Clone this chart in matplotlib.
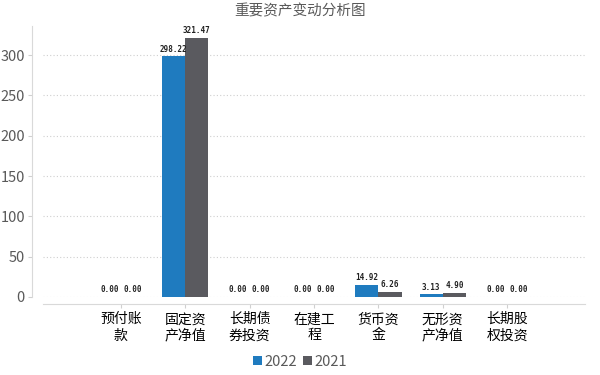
import matplotlib
matplotlib.use("Agg")
import matplotlib.pyplot as plt
import numpy as np

plt.rcParams['font.family'] = ['Noto Sans CJK SC', 'DejaVu Sans']

title = "重要资产变动分析图"
categories = ["预付账\n款", "固定资\n产净值", "长期债\n券投资", "在建工\n程", "货币资\n金", "无形资\n产净值", "长期股\n权投资"]
series_names = ["2022", "2021"]
values_2022 = [0.00, 298.22, 0.00, 0.00, 14.92, 3.13, 0.00]
values_2021 = [0.00, 321.47, 0.00, 0.00, 6.26, 4.90, 0.00]
yticks = [0, 50, 100, 150, 200, 250, 300]

c2022 = "#1f7bbf"
c2021 = "#5a5a5f"
gray = "#595959"

fig = plt.figure(figsize=(6, 3.75), dpi=100)
ax = fig.add_axes([43/600, 1 - 297/375, (585-43)/600, (297-26)/375])

x = np.arange(len(categories))
w = 0.36
b1 = ax.bar(x - w/2, values_2022, w, color=c2022, label=series_names[0])
b2 = ax.bar(x + w/2, values_2021, w, color=c2021, label=series_names[1])

for bars, vals in ((b1, values_2022), (b2, values_2021)):
    for r, v in zip(bars, vals):
        ax.annotate(f"{v:.2f}", (r.get_x() + r.get_width()/2, v),
                    xytext=(0, 2), textcoords="offset points",
                    ha="center", va="bottom", fontsize=5.5,
                    fontweight="bold", color="#222222",
                    family=["DejaVu Sans Mono", "DejaVu Sans"])

ax.set_xlim(-1.21, 7.21)
ax.set_ylim(0, 336)
ax.set_yticks(yticks)
ax.set_xticks(x)
ax.set_xticklabels(categories, fontsize=12, color=gray, linespacing=1.3)
ax.tick_params(axis="y", labelsize=10.5, labelcolor=gray, length=3, color="#d0d0d0", pad=2)
ax.tick_params(axis="x", length=3, color="#d0d0d0", pad=3)

ax.yaxis.grid(True, linestyle=(0, (1, 2)), color="#cfcfcf", linewidth=0.8)
ax.set_axisbelow(True)

for s in ("top", "right"):
    ax.spines[s].set_visible(False)
ax.spines["left"].set_position(("outward", 8))
ax.spines["bottom"].set_position(("outward", 5))
ax.spines["left"].set_color("#d9d9d9")
ax.spines["bottom"].set_color("#d9d9d9")

fig.text(0.5, 1 - 11/375, title, ha="center", va="center", fontsize=10.5,
         color=gray)

leg = fig.legend(handles=[b1, b2], labels=series_names, loc="center",
                 bbox_to_anchor=(0.5, 1 - 362/375), ncol=2, frameon=False,
                 fontsize=10.5, handlelength=0.6, handleheight=0.6,
                 handletextpad=0.2, columnspacing=0.4, labelcolor=gray)

fig.savefig("out.png", dpi=100)
